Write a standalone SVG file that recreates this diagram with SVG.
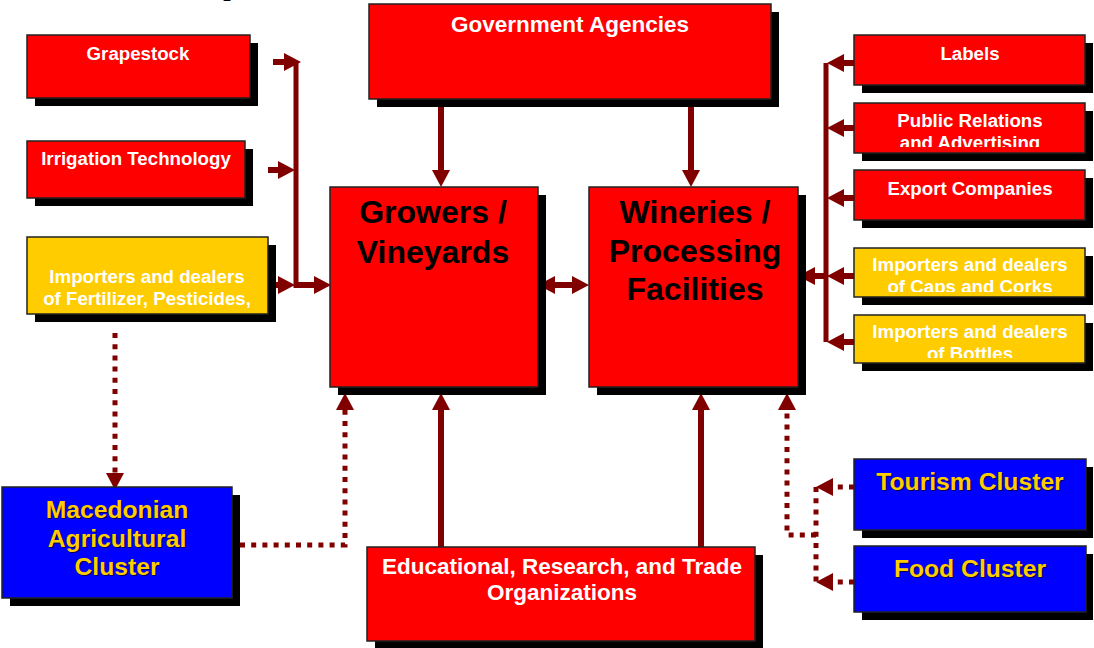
<svg xmlns="http://www.w3.org/2000/svg" width="1094" height="648" viewBox="0 0 1094 648">
<style>
.sh{fill:#000}
.red{fill:#FF0000;stroke:#222;stroke-width:1.5}
.yel{fill:#FFCC00;stroke:#222;stroke-width:1.5}
.blu{fill:#0000FF;stroke:#222;stroke-width:1.5}
text{font-family:"Liberation Sans",Arial,sans-serif;font-weight:bold;text-anchor:middle}
.s{font-size:18.7px;fill:#fff}
.m{font-size:22.5px;fill:#fff}
.big{font-size:32px;fill:#000}
.cl{font-size:24.7px;fill:#FFCC00}
.cls{font-size:24.7px;fill:#000055}
.c{fill:none;stroke:#800000;stroke-width:6}
.bus{fill:none;stroke:#800000;stroke-width:5}
.dot{fill:none;stroke:#800000;stroke-width:5;stroke-dasharray:5 6.2}
</style>
<defs>
<marker id="ah" markerUnits="userSpaceOnUse" markerWidth="18" markerHeight="18" refX="0" refY="9" orient="auto-start-reverse" overflow="visible"><path d="M0,0 L17,9 L0,18 z" fill="#800000"/></marker>
<clipPath id="cpPR"><rect x="854" y="103" width="231" height="44"/></clipPath>
<clipPath id="cpCaps"><rect x="854" y="248" width="231" height="44"/></clipPath>
<clipPath id="cpBot"><rect x="854" y="315" width="231" height="43"/></clipPath>
</defs>
<text x="223" y="-6" style="font-family:'Liberation Serif',serif;font-weight:normal;font-size:32px;text-anchor:start;fill:#000">p</text>

<g id="connectors">
<line class="c" x1="273" y1="62" x2="284" y2="62" marker-end="url(#ah)"/>
<line class="c" x1="268" y1="170" x2="278" y2="170" marker-end="url(#ah)"/>
<line class="c" x1="268" y1="285" x2="278" y2="285" marker-end="url(#ah)"/>
<line class="bus" x1="296" y1="62" x2="296" y2="288"/>
<line class="c" x1="296" y1="285" x2="314" y2="285" marker-end="url(#ah)"/>
<line class="c" x1="441" y1="103" x2="441" y2="170" marker-end="url(#ah)"/>
<line class="c" x1="691" y1="103" x2="691" y2="170" marker-end="url(#ah)"/>
<line class="c" x1="555" y1="285" x2="572" y2="285" marker-start="url(#ah)" marker-end="url(#ah)"/>
<line class="bus" x1="826" y1="63" x2="826" y2="342"/>
<line class="c" x1="854" y1="63" x2="844" y2="63" marker-end="url(#ah)"/>
<line class="c" x1="854" y1="128" x2="844" y2="128" marker-end="url(#ah)"/>
<line class="c" x1="854" y1="198" x2="844" y2="198" marker-end="url(#ah)"/>
<line class="c" x1="854" y1="276" x2="844" y2="276" marker-end="url(#ah)"/>
<line class="c" x1="854" y1="342" x2="844" y2="342" marker-end="url(#ah)"/>
<line class="c" x1="826" y1="276" x2="815" y2="276" marker-end="url(#ah)"/>
<line class="c" x1="441" y1="547" x2="441" y2="410" marker-end="url(#ah)"/>
<line class="c" x1="701" y1="547" x2="701" y2="410" marker-end="url(#ah)"/>
<line class="dot" x1="115" y1="333" x2="115" y2="473" marker-end="url(#ah)"/>
<path class="dot" d="M240,545 H345 V410" marker-end="url(#ah)"/>
<path class="dot" d="M854,487 H833" marker-end="url(#ah)"/>
<path class="dot" d="M854,582 H833" marker-end="url(#ah)"/>
<path class="dot" d="M816,487 V582"/>
<path class="dot" d="M816,535 H787 V410" marker-end="url(#ah)"/>
</g>

<g id="grapestock">
<rect class="sh" x="35" y="43" width="223" height="63"/>
<rect class="red" x="27" y="35" width="223" height="63"/>
<text class="s" x="138" y="60">Grapestock</text>
</g>
<g id="irrigation">
<rect class="sh" x="35" y="149" width="218" height="57"/>
<rect class="red" x="27" y="141" width="218" height="57"/>
<text class="s" x="136" y="165">Irrigation Technology</text>
</g>
<g id="fertilizer">
<rect class="sh" x="35" y="245" width="241" height="77"/>
<rect class="yel" x="27" y="237" width="241" height="77"/>
<text class="s" x="147" y="283">Importers and dealers</text>
<text class="s" x="147" y="305">of Fertilizer, Pesticides,</text>
</g>
<g id="government">
<rect class="sh" x="377" y="12" width="402" height="95"/>
<rect class="red" x="369" y="4" width="402" height="95"/>
<text class="m" x="570" y="32">Government Agencies</text>
</g>
<g id="growers">
<rect class="sh" x="338" y="195" width="208" height="200"/>
<rect class="red" x="330" y="187" width="208" height="200"/>
<text class="big" x="433" y="223">Growers /</text>
<text class="big" x="433" y="263">Vineyards</text>
</g>
<g id="wineries">
<rect class="sh" x="597" y="195" width="209" height="200"/>
<rect class="red" x="589" y="187" width="209" height="200"/>
<text class="big" x="695" y="223">Wineries /</text>
<text class="big" x="695" y="261.5">Processing</text>
<text class="big" x="695" y="300">Facilities</text>
</g>
<g id="labels">
<rect class="sh" x="862" y="43" width="231" height="50"/>
<rect class="red" x="854" y="35" width="231" height="50"/>
<text class="s" x="970" y="60">Labels</text>
</g>
<g id="public-relations">
<rect class="sh" x="862" y="111" width="231" height="50"/>
<rect class="red" x="854" y="103" width="231" height="50"/>
<g clip-path="url(#cpPR)">
<text class="s" x="970" y="127">Public Relations</text>
<text class="s" x="970" y="149">and Advertising</text>
</g>
</g>
<g id="export">
<rect class="sh" x="862" y="178" width="231" height="50"/>
<rect class="red" x="854" y="170" width="231" height="50"/>
<text class="s" x="970" y="195">Export Companies</text>
</g>
<g id="caps-corks">
<rect class="sh" x="862" y="256" width="231" height="49"/>
<rect class="yel" x="854" y="248" width="231" height="49"/>
<g clip-path="url(#cpCaps)">
<text class="s" x="970" y="271">Importers and dealers</text>
<text class="s" x="970" y="293">of Caps and Corks</text>
</g>
</g>
<g id="bottles">
<rect class="sh" x="862" y="323" width="231" height="48"/>
<rect class="yel" x="854" y="315" width="231" height="48"/>
<g clip-path="url(#cpBot)">
<text class="s" x="970" y="338">Importers and dealers</text>
<text class="s" x="970" y="360">of Bottles</text>
</g>
</g>
<g id="macedonian">
<rect class="sh" x="10" y="495" width="230" height="111"/>
<rect class="blu" x="2" y="487" width="230" height="111"/>
<text class="cls" x="118.2" y="519.2">Macedonian</text>
<text class="cls" x="118.2" y="548.2">Agricultural</text>
<text class="cls" x="118.2" y="576.2">Cluster</text>
<text class="cl" x="117" y="518">Macedonian</text>
<text class="cl" x="117" y="547">Agricultural</text>
<text class="cl" x="117" y="575">Cluster</text>
</g>
<g id="educational">
<rect class="sh" x="375" y="555" width="388" height="94"/>
<rect class="red" x="367" y="547" width="388" height="94"/>
<text class="m" x="562" y="574">Educational, Research, and Trade</text>
<text class="m" x="562" y="600">Organizations</text>
</g>
<g id="tourism">
<rect class="sh" x="862" y="467" width="231" height="71"/>
<rect class="blu" x="854" y="459" width="232" height="71"/>
<text class="cls" x="971.2" y="491.2">Tourism Cluster</text>
<text class="cl" x="970" y="490">Tourism Cluster</text>
</g>
<g id="food">
<rect class="sh" x="862" y="554" width="231" height="66"/>
<rect class="blu" x="854" y="546" width="232" height="66"/>
<text class="cls" x="971.2" y="578.2">Food Cluster</text>
<text class="cl" x="970" y="577">Food Cluster</text>
</g>
</svg>
